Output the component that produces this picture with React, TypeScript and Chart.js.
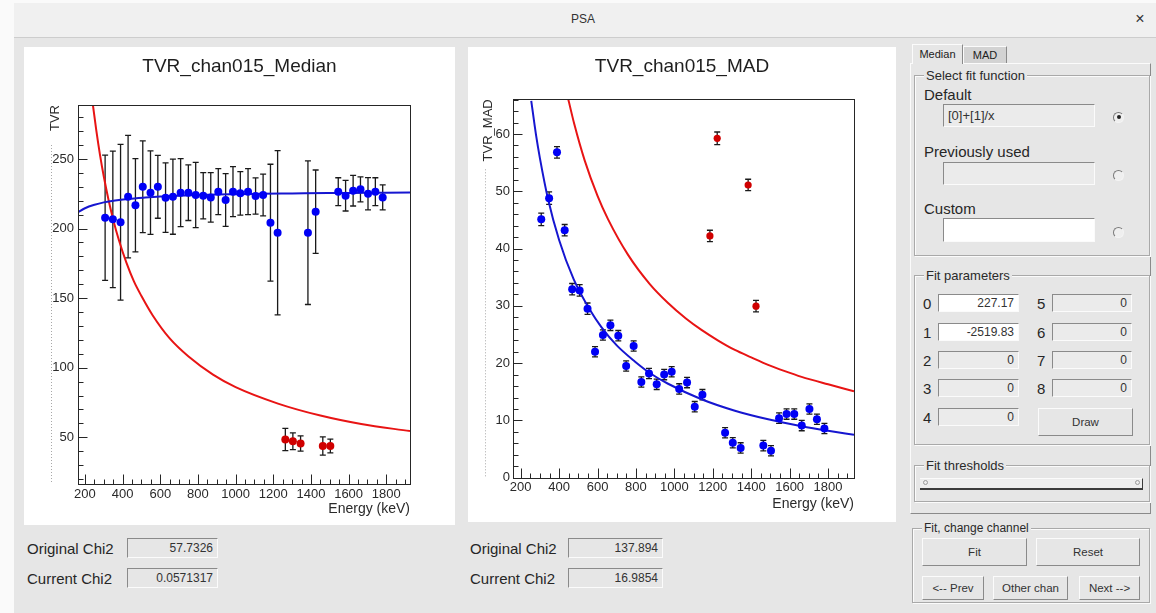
import React, { useEffect, useRef } from "react";
import { Chart, registerables } from "chart.js";

Chart.register(...registerables);

// ---------------- data ----------------
const energyKeV = [307, 348, 389, 429, 468, 507, 548, 587, 628, 667, 708, 749, 788, 828, 868, 908, 947, 986, 1025, 1066, 1106, 1146, 1185, 1223, 1264, 1304, 1345, 1384, 1425, 1463, 1503, 1545, 1584, 1624, 1663, 1703, 1742, 1781];

const medianTVR = [207.8, 206.6, 204.5, 222.9, 216.7, 230.0, 225.8, 230.0, 222.2, 222.9, 225.8, 225.8, 224.1, 223.6, 222.4, 226.5, 220.5, 226.5, 225.3, 226.5, 223.4, 224.1, 204.2, 197.0, 48.4, 47.1, 45.5, 197.0, 212.1, 43.7, 43.7, 226.5, 223.6, 227.2, 228.2, 225.0, 226.5, 222.4];
const medianErr = [45, 49, 56, 44, 33.5, 33, 30, 22.6, 25, 27, 24.4, 20, 23.5, 16.6, 17.8, 16.5, 19, 18, 15.6, 16.5, 13, 15, 42, 59, 8, 6, 5.5, 51.6, 30, 6.5, 5, 10, 11, 11, 9, 11.6, 10, 9];
const medianRejected = [24, 25, 26, 29, 30];

const madTVR = [45.1, 48.8, 56.8, 43.2, 32.9, 32.7, 29.5, 22.0, 24.9, 26.6, 24.8, 19.5, 23.0, 16.7, 18.2, 16.3, 18.0, 18.5, 15.5, 16.6, 12.4, 14.5, 42.2, 59.25, 7.85, 6.1, 5.2, 51.1, 29.95, 5.6, 4.7, 10.4, 11.1, 11.1, 9.1, 12.0, 10.2, 8.6];
const madErr = [1.1, 1.1, 1.0, 1.0, 1.0, 1.0, 1.0, 0.9, 0.9, 0.9, 0.9, 0.9, 0.9, 0.9, 0.9, 0.9, 0.9, 0.9, 0.9, 0.9, 0.9, 0.9, 1.0, 1.1, 0.9, 0.9, 0.9, 1.0, 1.0, 0.9, 0.9, 0.9, 0.9, 0.9, 0.9, 0.9, 0.9, 0.9];
const madRejected = [22, 23, 27, 28];

// fitted curve ([0]+[1]/x) and the initial curve
const medianFitE = [163, 200, 251, 300, 360, 428, 520, 600, 700, 783, 900, 1000, 1136, 1300, 1490, 1700, 1926];
const medianFitV = [211.7, 214.6, 217.1, 218.8, 220.2, 221.3, 222.3, 223.0, 223.6, 223.95, 224.4, 224.65, 224.95, 225.2, 225.5, 225.7, 225.9];
const medianInitE = [240, 260, 280, 300, 325, 350, 380, 420, 460, 500, 560, 650, 750, 880, 1000, 1225, 1450, 1667, 1926];
const medianInitV = [291, 270.7, 252.8, 237.4, 220.7, 206.4, 191.8, 175.5, 162, 151.5, 137.5, 121, 108, 95, 86, 74.2, 65.6, 59.5, 54.4];

const madFitE = [255, 280, 300, 342, 400, 475, 560, 620, 700, 794, 880, 967, 1141, 1315, 1488, 1662, 1800, 1935];
const madFitV = [65.8, 59.8, 55.8, 48.7, 41.5, 34.7, 29.3, 26.3, 23.1, 20.3, 18.1, 16.4, 13.7, 11.7, 10.2, 9.0, 8.2, 7.5];
const madInitE = [437, 480, 533, 600, 655, 759, 872, 967, 1060, 1141, 1230, 1315, 1400, 1488, 1575, 1662, 1800, 1935];
const madInitV = [67.6, 61.6, 55.4, 49.2, 45.1, 38.9, 33.8, 30.5, 27.8, 25.8, 23.9, 22.3, 21.0, 19.7, 18.6, 17.6, 16.3, 15.1];

const energyTicks = [200, 400, 600, 800, 1000, 1200, 1400, 1600, 1800];
const medianTicks = [50, 100, 150, 200, 250];
const madTicks = [0, 10, 20, 30, 40, 50, 60];

const fitParamsLeft = ["227.17", "-2519.83", "0", "0", "0"];
const fitParamsRight = ["0", "0", "0", "0"];

// ---------------- helpers ----------------
const FONT = '"Liberation Sans", Arial, Helvetica, sans-serif';
const BG = "#e6e6e6";

const errorBars = {
  id: "errorBars",
  beforeDatasetsDraw(chart: any) {
    const { ctx, chartArea: a } = chart;
    const ys = chart.scales.y;
    ctx.save();
    ctx.beginPath();
    ctx.rect(a.left, a.top, a.right - a.left, a.bottom - a.top);
    ctx.clip();
    ctx.strokeStyle = "#1a1a1a";
    ctx.lineWidth = 1.3;
    chart.data.datasets.forEach((ds: any, i: number) => {
      if (!ds.errors) return;
      const meta = chart.getDatasetMeta(i);
      meta.data.forEach((el: any, j: number) => {
        const v = ds.data[j].y;
        const e = ds.errors[j];
        const x = el.x;
        const y1 = ys.getPixelForValue(v + e);
        const y2 = ys.getPixelForValue(v - e);
        ctx.beginPath();
        ctx.moveTo(x, y1);
        ctx.lineTo(x, y2);
        ctx.moveTo(x - 3, y1);
        ctx.lineTo(x + 3, y1);
        ctx.moveTo(x - 3, y2);
        ctx.lineTo(x + 3, y2);
        ctx.stroke();
      });
    });
    ctx.restore();
  },
};

function makeRootAxes(cfg: any) {
  return {
    id: "rootAxes",
    afterDraw(chart: any) {
      const { ctx, chartArea: a } = chart;
      const xs = chart.scales.x;
      const ys = chart.scales.y;
      ctx.save();
      ctx.strokeStyle = "#262626";
      ctx.lineWidth = 1;
      const L = Math.round(a.left) + 0.5;
      const R = Math.round(a.right) + 0.5;
      const T = Math.round(a.top) + 0.5;
      const B = Math.round(a.bottom) + 0.5;
      ctx.strokeRect(L, T, R - L, B - T);
      ctx.beginPath();
      for (let v = Math.ceil(xs.min / cfg.xMinor) * cfg.xMinor; v <= xs.max; v += cfg.xMinor) {
        const px = Math.round(xs.getPixelForValue(v)) + 0.5;
        const len = cfg.xMajors.includes(v) ? 10 : 5;
        ctx.moveTo(px, B);
        ctx.lineTo(px, B - len);
      }
      for (let v = Math.ceil(ys.min / cfg.yMinor) * cfg.yMinor; v <= ys.max; v += cfg.yMinor) {
        const py = Math.round(ys.getPixelForValue(v)) + 0.5;
        const len = cfg.yMajors.includes(v) ? 9 : 5;
        ctx.moveTo(L, py);
        ctx.lineTo(L + len, py);
      }
      ctx.stroke();
      // faint dotted guide left of the axis
      ctx.setLineDash([1, 2]);
      ctx.strokeStyle = "#a8a8a8";
      ctx.beginPath();
      ctx.moveTo(Math.round(a.left - cfg.dotOffset) + 0.5, a.top + cfg.dotFromTop);
      ctx.lineTo(Math.round(a.left - cfg.dotOffset) + 0.5, a.bottom);
      ctx.stroke();
      ctx.restore();
    },
  };
}

function buildTvrChart(canvas: HTMLCanvasElement, s: any) {
  const idx = energyKeV.map((_, i) => i);
  const used = idx.filter((i) => !s.rejected.includes(i));
  const bad = idx.filter((i) => s.rejected.includes(i));
  const tickFont = { family: FONT, size: 13 };
  return new Chart(canvas, {
    type: "scatter",
    data: {
      datasets: [
        {
          label: "used",
          data: used.map((i) => ({ x: energyKeV[i], y: s.values[i] })),
          errors: used.map((i) => s.errors[i]),
          backgroundColor: "#0000f5",
          borderColor: "#0000f5",
          pointRadius: 4,
          pointBorderWidth: 0,
          order: 1,
        } as any,
        {
          label: "rejected",
          data: bad.map((i) => ({ x: energyKeV[i], y: s.values[i] })),
          errors: bad.map((i) => s.errors[i]),
          backgroundColor: "#d00000",
          borderColor: "#d00000",
          pointRadius: s.badRadius,
          pointBorderWidth: 0,
          order: 1,
        } as any,
        {
          label: "fit",
          data: s.fitE.map((e: number, i: number) => ({ x: e, y: s.fitV[i] })),
          showLine: true,
          pointRadius: 0,
          borderColor: "#1616d0",
          borderWidth: 2,
          cubicInterpolationMode: "monotone",
          order: 2,
        } as any,
        {
          label: "initial",
          data: s.initE.map((e: number, i: number) => ({ x: e, y: s.initV[i] })),
          showLine: true,
          pointRadius: 0,
          borderColor: "#e81414",
          borderWidth: 2,
          cubicInterpolationMode: "monotone",
          order: 2,
        } as any,
      ],
    },
    options: {
      responsive: false,
      animation: false,
      events: [],
      layout: { padding: { left: s.side, right: s.side, top: 0, bottom: 5 } },
      plugins: {
        legend: { display: false },
        tooltip: { enabled: false },
        title: {
          display: true,
          text: s.title,
          color: "#1e1e1e",
          font: { family: FONT, size: 19, weight: "normal" },
          padding: { top: s.titleTop, bottom: s.titleBottom },
        },
      },
      scales: {
        x: {
          type: "linear",
          position: "bottom",
          min: s.xMin,
          max: s.xMax,
          afterBuildTicks: (sc: any) => {
            sc.ticks = energyTicks.map((v) => ({ value: v }));
          },
          afterFit: (sc: any) => {
            sc.height = s.xHeight;
          },
          grid: { display: false, drawTicks: false },
          border: { display: false },
          ticks: {
            font: tickFont,
            color: "#2a2a2a",
            padding: s.xTickPad,
            autoSkip: false,
            maxRotation: 0,
            callback: (v: any) => String(v),
          },
          title: {
            display: true,
            text: "Energy (keV)",
            align: "end",
            color: "#2a2a2a",
            font: { family: FONT, size: 14 },
            padding: { top: 0, bottom: s.xTitlePad },
          },
        },
        y: {
          type: "linear",
          position: "left",
          min: s.yMin,
          max: s.yMax,
          afterBuildTicks: (sc: any) => {
            sc.ticks = s.yTicks.map((v: number) => ({ value: v }));
          },
          afterFit: (sc: any) => {
            sc.width = s.yWidth;
          },
          grid: { display: false, drawTicks: false },
          border: { display: false },
          ticks: {
            font: tickFont,
            color: "#2a2a2a",
            padding: s.yTickPad,
            autoSkip: false,
            callback: (v: any) => String(v),
          },
          title: {
            display: true,
            text: s.yTitle,
            align: "end",
            color: "#2a2a2a",
            font: { family: FONT, size: 13 },
            padding: { top: s.yTitlePad, bottom: 0 },
          },
        },
        yr: {
          type: "linear",
          position: "right",
          display: true,
          grid: { display: false, drawTicks: false },
          border: { display: false },
          ticks: { display: false },
          afterFit: (sc: any) => {
            sc.width = s.rightWidth;
          },
        },
      },
    } as any,
    plugins: [errorBars, makeRootAxes({ xMinor: 50, xMajors: energyTicks, yMinor: s.yMinor, yMajors: s.yTicks, dotOffset: s.dotOffset, dotFromTop: s.dotFromTop })],
  });
}

function ChartCanvas(props: { left: number; top: number; width: number; height: number; spec: any }) {
  const ref = useRef<HTMLCanvasElement>(null);
  useEffect(() => {
    const chart = buildTvrChart(ref.current as HTMLCanvasElement, props.spec);
    return () => chart.destroy();
  }, []);
  return (
    <canvas
      ref={ref}
      width={props.width}
      height={props.height}
      style={{ position: "absolute", left: props.left, top: props.top, width: props.width, height: props.height, background: "#ffffff" }}
    />
  );
}

// ---------------- GUI widgets ----------------
const abs = (l: number, t: number, w: number, h: number, extra: any = {}) => ({
  position: "absolute" as const,
  left: l,
  top: t,
  width: w,
  height: h,
  boxSizing: "border-box" as const,
  ...extra,
});
const sunken = {
  borderTop: "1px solid #8a8a8a",
  borderLeft: "1px solid #8a8a8a",
  borderBottom: "1px solid #fbfbfb",
  borderRight: "1px solid #fbfbfb",
};
const raised = {
  borderTop: "1px solid #fbfbfb",
  borderLeft: "1px solid #fbfbfb",
  borderBottom: "1px solid #8a8a8a",
  borderRight: "1px solid #8a8a8a",
  background: BG,
};

function Label(p: { x: number; cy: number; text: string; size: number; color?: string }) {
  const h = Math.round(p.size * 1.25);
  return (
    <div style={{ position: "absolute", left: p.x, top: p.cy - h / 2, height: h, lineHeight: h + "px", fontSize: p.size, color: p.color || "#262626", whiteSpace: "nowrap" }}>
      {p.text}
    </div>
  );
}

function Field(p: { x: number; y: number; w: number; h: number; text?: string; bg: string; align?: string; size?: number }) {
  return (
    <div
      style={abs(p.x, p.y, p.w, p.h, {
        ...sunken,
        background: p.bg,
        fontSize: p.size || 12,
        lineHeight: p.h - 2 + "px",
        textAlign: p.align || "right",
        padding: "0 4px",
        color: "#333",
        whiteSpace: "nowrap",
        overflow: "hidden",
      })}
    >
      {p.text || ""}
    </div>
  );
}

function Button(p: { x: number; y: number; w: number; h: number; text: string }) {
  return (
    <div style={abs(p.x, p.y, p.w, p.h, { ...raised, fontSize: 11.5, lineHeight: p.h - 2 + "px", textAlign: "center", color: "#333" })}>
      {p.text}
    </div>
  );
}

function Radio(p: { cx: number; cy: number; on: boolean }) {
  return (
    <div
      style={abs(p.cx - 5.5, p.cy - 5.5, 11, 11, {
        borderRadius: "50%",
        borderTop: "1px solid #7a7a7a",
        borderLeft: "1px solid #7a7a7a",
        borderBottom: "1px solid #f4f4f4",
        borderRight: "1px solid #f4f4f4",
        background: "#efefef",
      })}
    >
      {p.on ? <div style={abs(2.5, 2.5, 4, 4, { borderRadius: "50%", background: "#222" })} /> : null}
    </div>
  );
}

function Group(p: { x: number; y: number; w: number; h: number; title: string; size?: number }) {
  return (
    <div style={abs(p.x, p.y, p.w, p.h, { border: "1px solid #a9a9a9", boxShadow: "inset 1px 1px 0 #fbfbfb, 1px 1px 0 #fbfbfb" })}>
      <div style={{ position: "absolute", left: 9, top: -9, height: 17, lineHeight: "17px", padding: "0 2px", background: BG, fontSize: p.size || 13, color: "#2a2a2a", whiteSpace: "nowrap" }}>
        {p.title}
      </div>
    </div>
  );
}

const leftSpec = {
  title: "TVR_chan015_Median",
  yTitle: "TVR",
  values: medianTVR,
  errors: medianErr,
  rejected: medianRejected,
  fitE: medianFitE,
  fitV: medianFitV,
  initE: medianInitE,
  initV: medianInitV,
  yTicks: medianTicks,
  yMinor: 10,
  xMin: 163,
  xMax: 1926,
  yMin: 16.4,
  yMax: 288.8,
  side: 16,
  yWidth: 38,
  rightWidth: 29,
  xHeight: 36,
  titleTop: 8.6,
  titleBottom: 26.6,
  xTickPad: 3,
  yTickPad: 4,
  xTitlePad: 2.4,
  yTitlePad: 7.2,
  badRadius: 4,
  dotOffset: 27,
  dotFromTop: 40,
};

const rightSpec = {
  title: "TVR_chan015_MAD",
  yTitle: "TVR_MAD",
  values: madTVR,
  errors: madErr,
  rejected: madRejected,
  fitE: madFitE,
  fitV: madFitV,
  initE: madInitE,
  initV: madInitV,
  yTicks: madTicks,
  yMinor: 2,
  xMin: 160,
  xMax: 1935,
  yMin: 0,
  yMax: 66.06,
  side: 10,
  yWidth: 35,
  rightWidth: 32,
  xHeight: 39.3,
  titleTop: 8.1,
  titleBottom: 21.4,
  xTickPad: 2,
  yTickPad: 3,
  xTitlePad: 4.4,
  yTitlePad: 2.2,
  badRadius: 3.6,
  dotOffset: 28,
  dotFromTop: 70,
};

export default function App() {
  const rows = [303, 332, 360, 388, 417];
  return (
    <div style={{ position: "absolute", left: 0, top: 0, width: 1156, height: 613, overflow: "hidden", background: "#fafafa", fontFamily: FONT }}>
      {/* window title bar */}
      <div style={abs(14, 3, 1142, 35, { background: "#f0f0f0", borderBottom: "1px solid #cdcdcd" })} />
      <div style={{ position: "absolute", left: 543, top: 11, width: 80, textAlign: "center", fontSize: 12, color: "#333", lineHeight: "16px" }}>PSA</div>
      <div style={{ position: "absolute", left: 1133, top: 9, width: 14, textAlign: "center", fontSize: 16, color: "#333", lineHeight: "20px" }}>×</div>
      {/* window body */}
      <div style={abs(14, 38, 1142, 575, { background: BG })} />

      <ChartCanvas left={24} top={47} width={431} height={478} spec={leftSpec} />
      <ChartCanvas left={468} top={47} width={428} height={475} spec={rightSpec} />

      {/* chi2 read-outs */}
      <Label x={27} cy={548} text="Original Chi2" size={15} />
      <Field x={127} y={538} w={91} h={20} text="57.7326" bg={BG} />
      <Label x={27} cy={578} text="Current Chi2" size={15} />
      <Field x={127} y={568} w={91} h={20} text="0.0571317" bg={BG} />
      <Label x={470} cy={548} text="Original Chi2" size={15} />
      <Field x={568} y={538} w={95} h={20} text="137.894" bg={BG} />
      <Label x={470} cy={578} text="Current Chi2" size={15} />
      <Field x={568} y={568} w={95} h={20} text="16.9854" bg={BG} />

      {/* tab frame */}
      <div style={abs(910, 63, 241, 451, { ...raised })} />
      <div style={abs(912, 44, 51, 20, { borderTop: "1px solid #fbfbfb", borderLeft: "1px solid #fbfbfb", borderRight: "1px solid #8a8a8a", background: BG, fontSize: 11, lineHeight: "18px", textAlign: "center", color: "#222" })}>Median</div>
      <div style={abs(963, 46, 44, 17, { borderTop: "1px solid #fbfbfb", borderLeft: "1px solid #fbfbfb", borderRight: "1px solid #8a8a8a", background: "#d3d3d3", fontSize: 11, lineHeight: "16px", textAlign: "center", color: "#222" })}>MAD</div>

      {/* select fit function */}
      <Group x={914} y={75} w={236} h={181} title="Select fit function" />
      <Label x={924} cy={94} text="Default" size={15} />
      <Field x={943} y={104} w={152} h={23} text="[0]+[1]/x" bg="#ebebeb" align="left" size={13} />
      <Radio cx={1118.5} cy={117} on={true} />
      <Label x={924} cy={151} text="Previously used" size={15} />
      <Field x={943} y={162} w={152} h={23} bg="#ebebeb" />
      <Radio cx={1118.5} cy={175} on={false} />
      <Label x={924} cy={208} text="Custom" size={15} />
      <Field x={943} y={218} w={152} h={24} bg="#ffffff" />
      <Radio cx={1118.5} cy={232} on={false} />

      {/* fit parameters */}
      <Group x={914} y={275} w={236} h={170} title="Fit parameters" />
      {rows.map((cy, i) => (
        <React.Fragment key={"l" + i}>
          <Label x={923} cy={cy} text={String(i)} size={15} />
          <Field x={938} y={cy - 9} w={81} h={18} text={fitParamsLeft[i]} bg={i < 2 ? "#ffffff" : "#ebebeb"} />
        </React.Fragment>
      ))}
      {rows.slice(0, 4).map((cy, i) => (
        <React.Fragment key={"r" + i}>
          <Label x={1037} cy={cy} text={String(i + 5)} size={15} />
          <Field x={1052} y={cy - 9} w={80} h={18} text={fitParamsRight[i]} bg="#ebebeb" />
        </React.Fragment>
      ))}
      <Button x={1038} y={408} w={95} h={28} text="Draw" />

      {/* fit thresholds */}
      <Group x={914} y={465} w={236} h={37} title="Fit thresholds" />
      <div style={abs(920, 478, 223, 12, { background: "#ededed", borderTop: "1px solid #fbfbfb", borderBottom: "2px solid #3a3a3a", borderRight: "1px solid #3a3a3a" })} />
      <div style={abs(923, 480, 5, 5, { borderRadius: "50%", border: "1px solid #9a9a9a" })} />
      <div style={abs(1135, 480, 5, 5, { borderRadius: "50%", border: "1px solid #9a9a9a" })} />

      {/* fit, change channel */}
      <Group x={912} y={528} w={238} h={75} title="Fit, change channel" size={12} />
      <Button x={922} y={538} w={105} h={28} text="Fit" />
      <Button x={1036} y={538} w={104} h={28} text="Reset" />
      <Button x={922} y={576} w={62} h={24} text="<-- Prev" />
      <Button x={993} y={576} w={75} h={24} text="Other chan" />
      <Button x={1079} y={576} w={61} h={24} text="Next -->" />
    </div>
  );
}
